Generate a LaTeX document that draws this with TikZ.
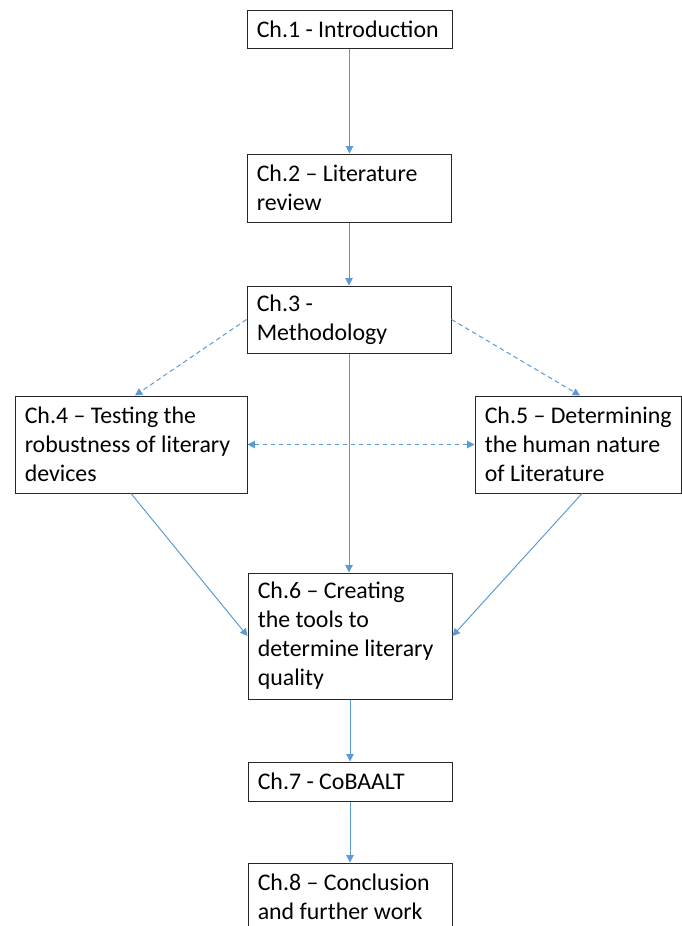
\documentclass[tikz,border=0pt]{standalone}
\usepackage{fontspec}
\setmainfont{Carlito}
\usetikzlibrary{arrows.meta}
\definecolor{arrowblue}{HTML}{5B9BD5}
\begin{document}
\begin{tikzpicture}[x=0.75pt,y=-0.75pt,
  box/.style={draw=black!85, line width=0.75pt, rectangle, inner sep=0pt,
    minimum width=153pt},
  txt/.style={anchor=west, align=left, inner sep=0pt,
    font=\fontsize{17.9}{21.75}\selectfont},
  conn/.style={draw=arrowblue, line width=0.75pt, -{Triangle[length=5.5pt,width=5.5pt]}},
  dconn/.style={conn, dash pattern=on 3.5pt off 2.5pt}]
\useasboundingbox (0,0) rectangle (682,926);
\clip (0,0) rectangle (682,926);
\node[box, minimum width=153.75pt, minimum height=28.5pt] (b1) at (349.5,29) {};
\node[box, minimum height=51pt] (b2) at (349,188) {};
\node[box, minimum height=50.25pt] (b3) at (349,319.5) {};
\node[box, minimum width=174pt, minimum height=72.75pt] (b4) at (131,444.5) {};
\node[box, minimum width=154.5pt, minimum height=72.75pt] (b5) at (578,444.5) {};
\node[box, minimum height=94.5pt] (b6) at (350,636) {};
\node[box, minimum height=29.25pt] (b7) at (350,781.5) {};
\node[box, minimum height=51pt] (b8) at (350,897) {};
\node[txt] (t1) at ([xshift=7.5pt]b1.west) {Ch.1 - Introduction};
\node[txt] (t2) at ([xshift=7.5pt]b2.west) {Ch.2 – Literature\\review};
\node[txt] (t3) at ([xshift=7.5pt]b3.west) {Ch.3 -\\Methodology};
\node[txt] (t4) at ([xshift=7.5pt]b4.west) {Ch.4 – Testing the\\robustness of literary\\devices};
\node[txt] (t5) at ([xshift=7.5pt]b5.west) {Ch.5 – Determining\\the human nature\\of Literature};
\node[txt] (t6) at ([xshift=7.5pt]b6.west) {Ch.6 – Creating\\the tools to\\determine literary\\quality};
\node[txt] (t7) at ([xshift=7.5pt]b7.west) {Ch.7 - CoBAALT};
\node[txt] (t8) at ([xshift=7.5pt]b8.west) {Ch.8 – Conclusion\\and further work};
\draw[conn] (b1.south) -- (b1.south |- b2.north);
\draw[conn] (b2.south) -- (b2.south |- b3.north);
\draw[conn] (b3.south) -- (b3.south |- b6.north);
\draw[dconn] (b3.west) -- ([xshift=3pt]b4.north);
\draw[dconn] (b3.east) -- ([xshift=1.5pt]b5.north);
\draw[dconn, {Triangle[length=5.5pt,width=5.5pt]}-{Triangle[length=5.5pt,width=5.5pt]}] (b4.east) -- (b5.west);
\draw[conn] (b4.south) -- (b6.west);
\draw[conn] ([xshift=3pt]b5.south) -- (b6.east);
\draw[conn] (b6.south) -- (b7.north);
\draw[conn] (b7.south) -- (b8.north);
\end{tikzpicture}
\end{document}
